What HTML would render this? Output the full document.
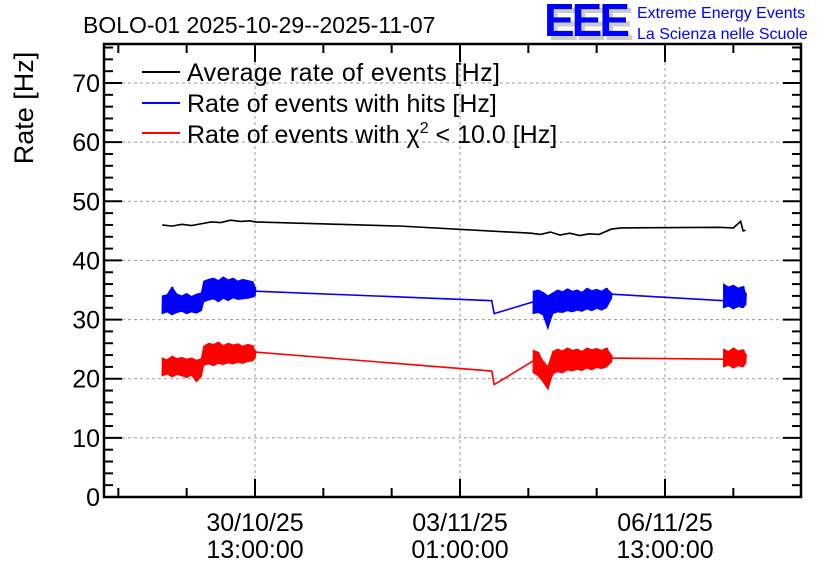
<!DOCTYPE html>
<html><head><meta charset="utf-8"><style>
body{margin:0;background:#fff;}
svg text{font-family:"Liberation Sans",sans-serif;}
</style></head><body>
<svg id="c" width="836" height="572" xmlns="http://www.w3.org/2000/svg">
<rect width="836" height="572" fill="#fff"/>
<text x="83" y="33" font-size="23">BOLO-01 2025-10-29--2025-11-07</text>
<g>
<text x="548" y="40" font-size="46" fill="#ccc" font-weight="bold" textLength="86">EEE</text>
<text x="544" y="36" font-size="46" fill="#00f" font-weight="bold" textLength="86">EEE</text>
<text x="637" y="18" font-size="16" fill="#00f">Extreme Energy Events</text>
<text x="637" y="39" font-size="16" fill="#00f">La Scienza nelle Scuole</text>
</g>
<text transform="translate(33,108) rotate(-90)" text-anchor="middle" font-size="27">Rate [Hz]</text>
<g id="grid"></g><g id="axes"></g><g id="series"></g>
<g>
<g><line x1="142" x2="180" y1="72" y2="72" stroke="#000" stroke-width="2"/><text x="187" y="81" font-size="25" textLength="313">Average rate of events [Hz]</text></g>
<g><line x1="142" x2="180" y1="103" y2="103" stroke="#00f" stroke-width="2"/><text x="187" y="112" font-size="25">Rate of events with hits [Hz]</text></g>
<g><line x1="142" x2="180" y1="133" y2="133" stroke="#f00" stroke-width="2"/><text x="187" y="143" font-size="25">Rate of events with χ<tspan dy="-10" font-size="16">2</tspan><tspan dy="10"> &lt; 10.0 [Hz]</tspan></text></g>
</g>
</svg>
<script>
// hours relative to 30/10/25 13:00
const xTickHours=[0,84,168];
const xTickLabels1=["30/10/25","03/11/25","06/11/25"];
const xTickLabels2=["13:00:00","01:00:00","13:00:00"];
const yTicks=[0,10,20,30,40,50,60,70];
// black: [hour,value]
const avgT=[-38,-34,-30,-26,-22,-18,-14,-10,-6,-2,0,60,113,117,121,125,129,133,137,141,146,150,190,196,199,200,201];
const avgV=[46,45.8,46.1,45.9,46.2,46.5,46.4,46.8,46.6,46.7,46.5,45.8,44.6,44.4,44.8,44.3,44.6,44.2,44.5,44.4,45.3,45.5,45.6,45.5,46.6,45,45.1];
// blue bands [hour, low, high]
const hitBandT=[-38,-36,-34,-32,-30,-28,-26,-24,-22,-21,-19,-17,-15,-13,-11,-9,-7,-5,-3,-1,0];
const hitBandLo=[31,31.3,30.8,31.2,31.4,31,31.3,31.1,31.5,33,33.3,33.5,33,33.6,33.2,33.7,33.4,33.5,33.6,33.8,34];
const hitBandHi=[34,34.2,35.5,34.3,34,34.4,33.9,34.3,34.5,36.5,36.8,37,36.6,37.2,36.7,37,36.5,36.8,36.6,36.4,35.5];
const hitLineT=[0,97,98,114];
const hitLineV=[34.8,33.2,31,33];
const hit2T=[114,116,118,120,122,124,126,128,130,132,134,136,138,140,142,144,146];
const hit2Lo=[31,31.2,30.8,28.5,31,31.3,31.2,31.5,31.3,31.6,31.4,31.8,31.5,31.9,31.6,32,33.5];
const hit2Hi=[34.8,35,34.6,34,34.5,35,34.7,35.2,34.8,35,34.6,35.3,34.9,35.1,34.8,35.3,34.5];
const hitLine2T=[146,192];
const hitLine2V=[34.3,33.2];
const hit3T=[192,194,196,198,200,201];
const hit3Lo=[32,32.3,31.8,32.2,32,32.5];
const hit3Hi=[36,35.5,35.8,35.3,35.6,34.5];
// red
const chiBandT=[-38,-36,-34,-32,-30,-28,-26,-24,-22,-21,-19,-17,-15,-13,-11,-9,-7,-5,-3,-1,0];
const chiBandLo=[20.5,20.8,20.3,20.7,20.5,20.2,20.6,19.5,20.4,22.3,22.5,22.2,22.6,22.4,22.7,22.5,22.8,22.6,22.9,23,23.5];
const chiBandHi=[23.5,23.2,23.8,23.4,23.6,23.3,23.5,23.1,23.4,25.5,26,25.8,26.2,25.6,26,25.7,25.9,25.5,25.8,25.6,24.8];
const chiLineT=[0,97,98,114];
const chiLineV=[24.5,21.3,19,23];
const chi2T=[114,116,118,120,122,124,126,128,130,132,134,136,138,140,142,144,146];
const chi2Lo=[21,20.5,19.5,18.2,20.8,21.2,21,21.5,21.3,21.6,21.4,21.8,21.5,21.9,21.7,22,22.8];
const chi2Hi=[24.8,24.5,23,22,24.6,25,24.7,25.2,24.8,25,24.6,25.2,24.9,25.1,24.8,25.2,24];
const chiLine2T=[146,192];
const chiLine2V=[23.5,23.3];
const chi3T=[192,194,196,198,200,201];
const chi3Lo=[22,22.3,21.8,22.2,22,22.6];
const chi3Hi=[25,24.6,25.2,24.7,24.9,24.2];

const X=h=>255+h*205/84, Y=v=>497-v*(497-83)/70;
const NS="http://www.w3.org/2000/svg";
function mk(tag,parent,attrs){const e=document.createElementNS(NS,tag);for(const k in attrs)e.setAttribute(k,attrs[k]);document.getElementById(parent).appendChild(e);return e;}
const L=104,R=801,T=44,B=497;
yTicks.forEach((v,i)=>{
 if(v>0){const g=mk('line','grid',{x1:L,x2:R,y1:Y(v),y2:Y(v),stroke:'#999','stroke-dasharray':'3,3'});
 
 }
 const t=mk('text','axes',{x:L-4,y:Y(v)+9,'font-size':25,'text-anchor':'end'});t.textContent=v;
 
 
 mk('line','axes',{x1:L,x2:L+18,y1:Y(v),y2:Y(v),stroke:'#000','stroke-width':2});
 mk('line','axes',{x1:R,x2:R-18,y1:Y(v),y2:Y(v),stroke:'#000','stroke-width':2});
 for(let j=1;j<5;j++){const m=v+j*2;if(m<=76){mk('line','axes',{x1:L,x2:L+9,y1:Y(m),y2:Y(m),stroke:'#000','stroke-width':2});mk('line','axes',{x1:R,x2:R-9,y1:Y(m),y2:Y(m),stroke:'#000','stroke-width':2});}}
});
xTickHours.forEach((h,i)=>{
 const g=mk('line','grid',{x1:X(h),x2:X(h),y1:T,y2:B,stroke:'#999','stroke-dasharray':'3,3'});
 
 
 const t1=mk('text','axes',{x:X(h),y:531,'font-size':25,'text-anchor':'middle'});t1.textContent=xTickLabels1[i];
 
 
 const t2=mk('text','axes',{x:X(h),y:558,'font-size':25,'text-anchor':'middle'});t2.textContent=xTickLabels2[i];
 
 
});
for(let h=-56;h<=224;h+=28){const x=X(h);if(x<L||x>R)continue;const big=xTickHours.includes(h)?18:9;
 mk('line','axes',{x1:x,x2:x,y1:B,y2:B-big,stroke:'#000','stroke-width':2});mk('line','axes',{x1:x,x2:x,y1:T,y2:T+big,stroke:'#000','stroke-width':2});}
const fr=mk('rect','axes',{x:L,y:T,width:R-L,height:B-T,fill:'none',stroke:'#000','stroke-width':2.5});


function line(ts,vs,col,name){const p=mk('polyline','series',{points:ts.map((t,i)=>X(t)+','+Y(vs[i])).join(' '),fill:'none',stroke:col,'stroke-width':1.6});
 
 }
function band(ts,lo,hi,col,name){const pts=[];ts.forEach((t,i)=>{pts.push(X(t)+','+Y(lo[i]));pts.push((X(t)+0.6)+','+Y(hi[i]));});
 const poly=mk('polygon','series',{points:ts.map((t,i)=>X(t)+','+Y(hi[i])).concat(ts.slice().reverse().map((t,j)=>{const i=ts.length-1-j;return X(t)+','+Y(lo[i]);})).join(' '),fill:col,stroke:col,'stroke-width':1});
 
 
 const p=mk('polyline','series',{points:pts.join(' '),fill:'none',stroke:col,'stroke-width':1.5});
 
 }
line(avgT,avgV,'#000','average-rate-line');
band(hitBandT,hitBandLo,hitBandHi,'#00f','hits-rate-segment-1');
line(hitLineT,hitLineV,'#00f','hits-rate-gap-line');
band(hit2T,hit2Lo,hit2Hi,'#00f','hits-rate-segment-2');
line(hitLine2T,hitLine2V,'#00f','hits-rate-gap-line-2');
band(hit3T,hit3Lo,hit3Hi,'#00f','hits-rate-segment-3');
band(chiBandT,chiBandLo,chiBandHi,'#f00','chi2-rate-segment-1');
line(chiLineT,chiLineV,'#f00','chi2-rate-gap-line');
band(chi2T,chi2Lo,chi2Hi,'#f00','chi2-rate-segment-2');
line(chiLine2T,chiLine2V,'#f00','chi2-rate-gap-line-2');
band(chi3T,chi3Lo,chi3Hi,'#f00','chi2-rate-segment-3');
</script>
</body></html>
